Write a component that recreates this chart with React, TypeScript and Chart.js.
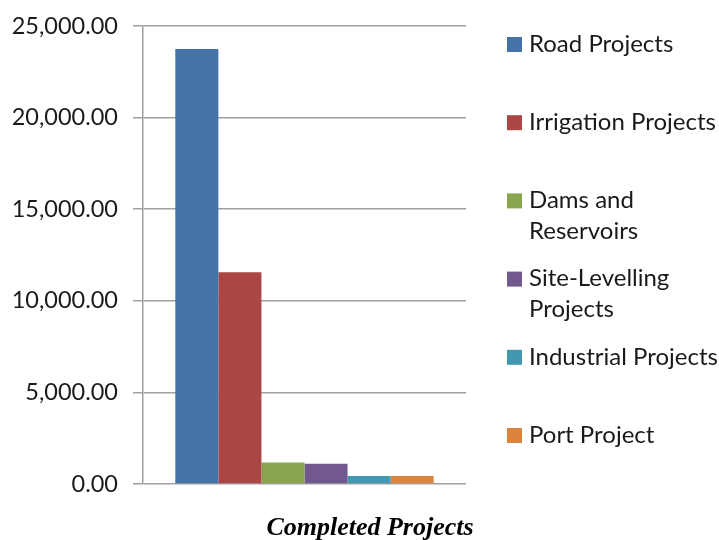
import { useEffect, useRef } from "react";
import { Chart, registerables } from "chart.js";

Chart.register(...registerables);

const categories = ["Completed Projects"];
const seriesLabels = [
  "Road Projects",
  "Irrigation Projects",
  "Dams and Reservoirs",
  "Site-Levelling Projects",
  "Industrial Projects",
  "Port Project",
];
const seriesValues = [23750, 11560, 1170, 1100, 430, 430];
const seriesColors = ["#4572A7", "#AA4643", "#89A54E", "#71588F", "#4198AF", "#DB843D"];
const legendLines = [
  ["Road Projects"],
  ["Irrigation Projects"],
  ["Dams and", "Reservoirs"],
  ["Site-Levelling", "Projects"],
  ["Industrial Projects"],
  ["Port Project"],
];
const yMin = 0;
const yMax = 25000;
const yStep = 5000;
const caption = "Completed Projects";

const LABEL_FONT = "Lato, 'Open Sans', sans-serif";

const legendPlugin = {
  id: "sideLegendCaption",
  afterDraw(chart: any) {
    const ctx = chart.ctx;
    const area = chart.chartArea;
    ctx.save();
    ctx.textBaseline = "middle";
    ctx.textAlign = "left";
    ctx.font = `24px ${LABEL_FONT}`;
    const firstY = area.top + 18;
    const step = 78.2;
    const lineH = 31;
    legendLines.forEach((lines, i) => {
      const y = firstY + i * step;
      const ds = chart.data.datasets[i];
      ctx.fillStyle = ds.backgroundColor;
      ctx.fillRect(507, y - 7, 15, 15);
      ctx.fillStyle = "#1a1a1a";
      lines.forEach((ln, j) => {
        ctx.fillText(ln, 529, y + j * lineH);
      });
    });
    ctx.font = `italic bold 26px 'Liberation Serif', 'Times New Roman', serif`;
    ctx.fillStyle = "#000";
    ctx.textAlign = "center";
    ctx.textBaseline = "alphabetic";
    ctx.fillText(caption, 370, 535);
    ctx.restore();
  },
};

export default function App() {
  const ref = useRef<HTMLCanvasElement | null>(null);
  useEffect(() => {
    if (!ref.current) return;
    const chart = new Chart(ref.current, {
      type: "bar",
      data: {
        labels: categories,
        datasets: seriesLabels.map((label, i) => ({
          label,
          data: [seriesValues[i]],
          backgroundColor: seriesColors[i],
          borderWidth: 0,
          barPercentage: 1,
          categoryPercentage: 0.8,
        })),
      },
      options: {
        animation: false,
        responsive: false,
        maintainAspectRatio: false,
        layout: { padding: { left: 0, top: 26, right: 253, bottom: 56 } },
        plugins: {
          legend: { display: false },
          tooltip: { enabled: false },
          title: { display: false },
        },
        scales: {
          x: { display: false },
          y: {
            min: yMin,
            max: yMax,
            afterFit: (s: any) => {
              s.width = 143;
              s.paddingTop = 0;
              s.paddingBottom = 0;
            },
            ticks: {
              stepSize: yStep,
              padding: 15,
              color: "#1a1a1a",
              font: { family: LABEL_FONT, size: 23.5 },
              callback: (v: any) =>
                Number(v).toLocaleString("en-US", { minimumFractionDigits: 2, maximumFractionDigits: 2 }),
            },
            grid: { color: "#a0a0a0", lineWidth: 1.5, tickLength: 10, drawTicks: true },
            border: { color: "#a0a0a0", width: 1.5 },
          },
        },
      },
      plugins: [legendPlugin],
    });
    return () => chart.destroy();
  }, []);
  return (
    <div style={{ position: "fixed", left: 0, top: 0, width: 719, height: 540, background: "#fff" }}>
      <canvas ref={ref} width={719} height={540} style={{ display: "block", width: 719, height: 540 }} />
    </div>
  );
}
